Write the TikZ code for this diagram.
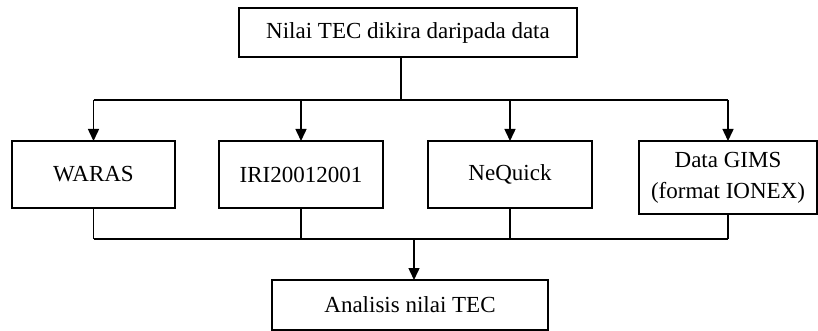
\documentclass[tikz,border=0pt]{standalone}
\usepackage{fontspec}
\setmainfont{Liberation Serif}
\usetikzlibrary{positioning,arrows.meta}

\begin{document}
\begin{tikzpicture}
[x=1pt,y=1pt,
 every node/.style={draw=black,line width=1.5pt,inner sep=0pt,outer sep=0pt,align=center,
   font=\fontsize{23}{31}\selectfont},
 box/.style={rectangle,minimum width=164pt,minimum height=67pt},
 arr/.style={-{Triangle[length=12pt,width=11pt]}},
 line width=1.5pt]

\useasboundingbox (0,0) rectangle (818,-331);

% source
\node[rectangle,minimum width=338pt,minimum height=49pt] (Top) at (408,-32.5) {Nilai TEC dikira daripada data};

% models
\node[box,minimum width=163pt] (WARAS)   [on grid,below left=142pt and 314.5pt of Top] {WARAS};
\node[box]                     (IRI)     [on grid,right=207.5pt of WARAS]              {IRI20012001};
\node[box]                     (NeQuick) [on grid,right=209pt of IRI]                  {NeQuick};
\node[box,minimum width=178pt,minimum height=73pt]
                               (GIMS)    [on grid,below right=3pt and 218pt of NeQuick] {Data GIMS\\(format IONEX)};

% result
\node[rectangle,minimum width=276pt,minimum height=50pt]
                               (Analisis) [on grid,below right=272.5pt and 2pt of Top] {Analisis nilai TEC};

\coordinate (TopBus) at (401,-100);
\coordinate (LowBus) at (414,-239);

\path (TopBus |- Top.south) edge (TopBus);
\path (WARAS.north |- TopBus) edge (GIMS.north |- TopBus);
\foreach \m in {WARAS,IRI,NeQuick,GIMS}
  \path[arr] (\m.north |- TopBus) edge (\m.north);

\foreach \m in {WARAS,IRI,NeQuick,GIMS}
  \path (\m.south) edge (\m.south |- LowBus);
\path (WARAS.south |- LowBus) edge (GIMS.south |- LowBus);
\path[arr] (LowBus) edge (LowBus |- Analisis.north);

\end{tikzpicture}
\end{document}
